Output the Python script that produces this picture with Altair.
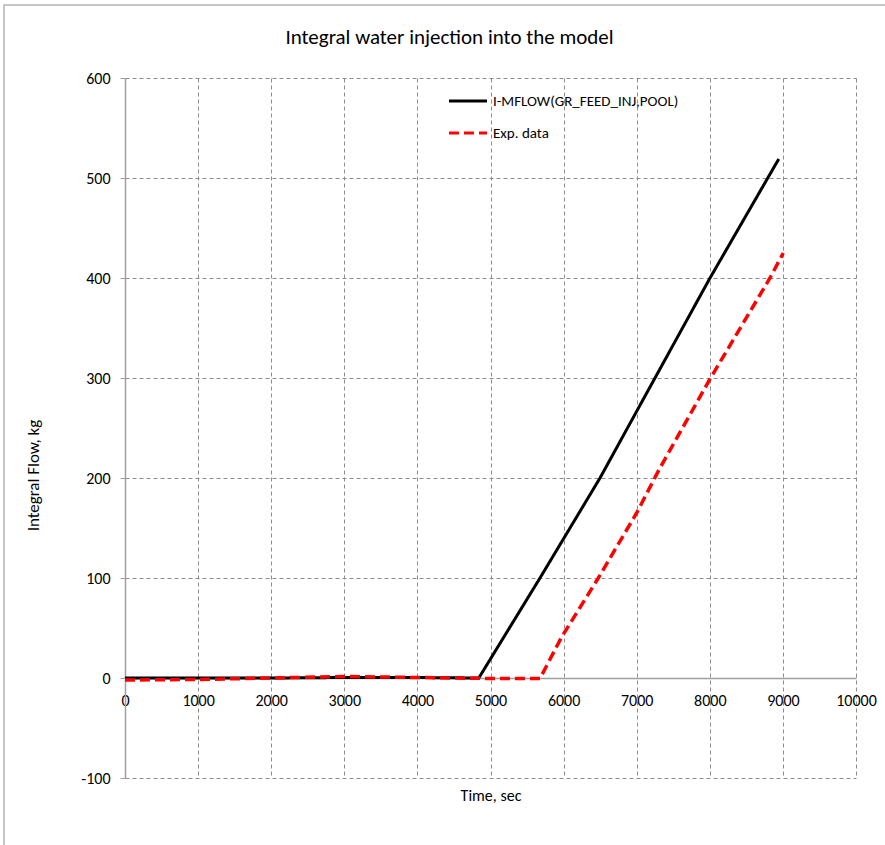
import altair as alt
import pandas as pd

# Simulated integral flow (kg) over time (s)
sim_time = [0, 1000, 2000, 3000, 4000, 4840, 5677, 6498, 7250, 8003, 8943]
sim_flow = [0, 0, 0, 0.5, 0.5, 0, 100, 200, 300, 400, 519]

# Experimental integral flow (kg) over time (s)
exp_time = [0, 1000, 2000, 3000, 4000, 5000, 5677, 5973, 6475, 6999, 7318, 8003, 8823, 9005]
exp_flow = [-2, -1.5, 0, 1.5, 0.5, -0.5, -0.5, 41, 100, 165, 210, 299, 400, 425]

SIM = "I-MFLOW(GR_FEED_INJ,POOL)"
EXP = "Exp. data"
series_names = [SIM, EXP]
series_colors = ["#000000", "#ff0000"]

FONT = "Carlito, Calibri, Lato, sans-serif"

sim_df = pd.DataFrame({"time": sim_time, "flow": sim_flow, "series": SIM})
exp_df = pd.DataFrame({"time": exp_time, "flow": exp_flow, "series": EXP})

x_enc = alt.X(
    "time:Q",
    scale=alt.Scale(domain=[0, 10000], nice=False),
    axis=alt.Axis(
        values=list(range(0, 10001, 1000)),
        labelExpr="'' + datum.value",
        labelFlush=False,
        offset=-100,
        ticks=False,
        labelPadding=14,
        labelFontSize=16,
        labelFont=FONT,
        labelColor="#000000",
        domainColor="#a0a0a0",
        domainWidth=1.5,
        grid=True,
        gridColor="#8c8c8c",
        gridDash=[4, 3],
        gridWidth=1,
        title="Time, sec",
        titleFont=FONT,
        titleFontSize=16,
        titleFontWeight="normal",
        titleColor="#000000",
        titleBaseline="middle",
        titleY=117,
    ),
)

y_enc = alt.Y(
    "flow:Q",
    scale=alt.Scale(domain=[-100, 600], nice=False),
    axis=alt.Axis(
        values=list(range(-100, 601, 100)),
        labelExpr="'' + datum.value",
        labelFlush=False,
        tickSize=5,
        tickColor="#a0a0a0",
        labelPadding=10,
        labelFontSize=16,
        labelFont=FONT,
        labelColor="#000000",
        domainColor="#a0a0a0",
        domainWidth=1.5,
        grid=True,
        gridColor="#8c8c8c",
        gridDash=[4, 3],
        gridWidth=1,
        title="Integral Flow, kg",
        titleFont=FONT,
        titleFontSize=17,
        titleFontWeight="normal",
        titleColor="#000000",
        titleAngle=270,
        titleBaseline="middle",
        titleAlign="center",
        titleX=-92,
        titleY=397,
    ),
)

legend_opts = dict(
    title=None,
    orient="none",
    legendX=322,
    legendY=2,
    symbolType="stroke",
    symbolSize=1450,
    symbolStrokeWidth=3,
    labelFont=FONT,
    labelFontSize=15,
    labelColor="#000000",
    labelOffset=4,
    labelLimit=0,
    rowPadding=3,
)

color_enc = alt.Color(
    "series:N",
    scale=alt.Scale(domain=series_names, range=series_colors),
    sort=series_names,
    legend=alt.Legend(**legend_opts),
)
dash_enc = alt.StrokeDash(
    "series:N",
    scale=alt.Scale(domain=series_names, range=[[1, 0], [10, 5]]),
    sort=series_names,
    legend=alt.Legend(**legend_opts),
)

sim_line = alt.Chart(sim_df).mark_line(strokeWidth=3).encode(
    x=x_enc, y=y_enc, color=color_enc, strokeDash=dash_enc
)
exp_line = alt.Chart(exp_df).mark_line(strokeWidth=3.5).encode(
    x=x_enc, y=y_enc, color=color_enc, strokeDash=dash_enc
)

# Outer frame of the chart area
frame = alt.Chart(pd.DataFrame({"k": [0]})).mark_rect(
    fill=None, stroke="#b4b4b4", strokeWidth=1.5
).encode(
    x=alt.value(-121), y=alt.value(-73), x2=alt.value(900), y2=alt.value(900)
)

chart = (
    alt.layer(frame, sim_line, exp_line)
    .properties(
        width=731,
        height=700,
        autosize=alt.AutoSizeParams(type="none"),
        padding={"left": 125, "top": 78, "right": 29, "bottom": 67},
        title=alt.TitleParams(
            "Integral water injection into the model",
            anchor="middle",
            dx=-41,
            fontSize=21,
            font=FONT,
            fontWeight="normal",
            color="#000000",
            baseline="alphabetic",
            offset=-61,
        ),
        background="#ffffff",
    )
    .configure_view(stroke=None)
)

chart.save("out.html", embed_options={"renderer": "svg", "actions": False})
